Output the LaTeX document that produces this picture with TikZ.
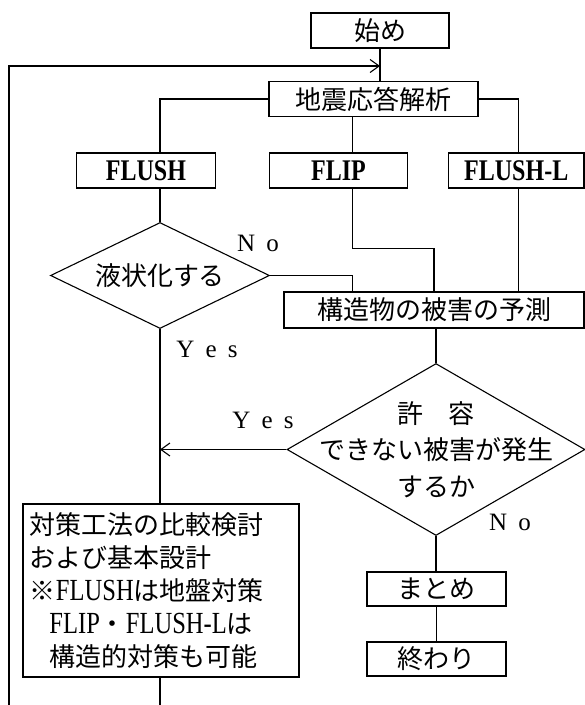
\documentclass[tikz,border=0pt]{standalone}
\usepackage{fontspec}
\setmainfont{Noto Sans CJK JP}
\newfontfamily\codefont[FakeStretch=0.8]{Liberation Serif Bold}
\newfontfamily\latfont[FakeStretch=0.8,Scale=1.18]{Liberation Serif}
\newfontfamily\ynfont{Liberation Serif}
\usetikzlibrary{shapes.geometric,arrows.meta}

\newcommand{\lat}[1]{{\latfont #1}}
\newcommand{\widespace}{\spaceskip=0.45em\relax}

\tikzset{
  box/.style={draw,line width=1.5pt,minimum height=35pt,inner sep=0pt},
  cond/.style={draw,diamond,line width=1.1pt,inner sep=0pt},
  code/.style={font=\fontsize{30}{30}\selectfont\codefont},
  yn/.style={font=\fontsize{25}{25}\selectfont\ynfont\widespace},
  line/.style={line width=1.1pt}
}

\begin{document}
\begin{tikzpicture}[x=1pt,y=-1pt,font=\fontsize{26}{30}\selectfont,
  >={Straight Barb[length=9pt,width=13pt,line width=1.1pt]}]
\useasboundingbox (0,0) rectangle (585,705);
% boxes
\node[box,minimum width=138pt] (start) at (380,30.5) {始め};
\node[box,minimum width=209pt] (quake) at (373.5,99) {地震応答解析};
\node[box,minimum width=139pt,code] (flush) at (146,170.5) {FLUSH};
\node[box,minimum width=138pt,code] (flip) at (338.5,170.5) {FLIP};
\node[box,minimum width=135.5pt,code] (flushl) at (516.25,170.5) {FLUSH-L};
\node[cond,aspect=2.066,minimum width=219pt,minimum height=106pt] (liq) at (160,275.5) {液状化する};
\node[box,minimum width=300pt,minimum height=36pt] (pred) at (434,310) {構造物の被害の予測};
\node[cond,aspect=1.733,minimum width=298pt,minimum height=172pt,
  label={[align=center,font=\fontsize{26}{36.5}\selectfont]center:許\hspace{1em}容\\できない被害が発生\\するか}]
  (allow) at (436,449.5) {};
\node[box,minimum width=276pt,minimum height=173pt,text width=262pt,
  inner xsep=7pt,align=left,font=\fontsize{26}{32.8}\selectfont] (measure) at (161,590.5)
  {対策工法の比較検討\\および基本設計\\※\lat{FLUSH}は地盤対策\\
   \hspace*{0.75em}\lat{FLIP}・\lat{FLUSH-L}は\\\hspace*{0.75em}構造的対策も可能};
\node[box,minimum width=139pt,minimum height=34pt] (summary) at (436.5,589) {まとめ};
\node[box,minimum width=139pt,minimum height=34pt] (end) at (436.5,659) {終わり};
% labels
\node[yn] (no1) at (258,243) {N o};
\node[yn] (yes1) at (207,349) {Y e s};
\node[yn] (yes2) at (263,420) {Y e s};
\node[yn] (no2) at (510,522) {N o};
% connectors
\coordinate (merge) at (380,66);
\coordinate (loopend) at (9,705);
\coordinate (tail) at (160,705);
\draw[line] (start.south) -- (start.south |- quake.north);
\draw[line,->] (loopend) |- (merge);
\draw[line] (quake.west) -| ([xshift=14pt]flush.north);
\draw[line] ([xshift=-21pt]quake.south) -- ([xshift=14pt]flip.north);
\draw[line] (quake.east) -| ([xshift=2pt]flushl.north);
\draw[line] ([xshift=14pt]flip.south) -- ++(0,60) -| (pred.north);
\draw[line] ([xshift=2pt]flushl.south) -- ([xshift=2pt]flushl.south |- pred.north);
\draw[line] ([xshift=14pt]flush.south) -- (liq.north);
\draw[line] (liq.east) -| ([xshift=14pt]flip.south |- pred.north);
\draw[line] (liq.south) -- (liq.south |- measure.north);
\draw[line] (allow.north |- pred.south) -- (allow.north);
\draw[line,->] (allow.west) -- (allow.west -| liq.south);
\draw[line] (allow.south) -- (allow.south |- summary.north);
\draw[line] (summary) -- (end);
\draw[line] (measure.south -| tail) -- (tail);
\end{tikzpicture}
\end{document}
